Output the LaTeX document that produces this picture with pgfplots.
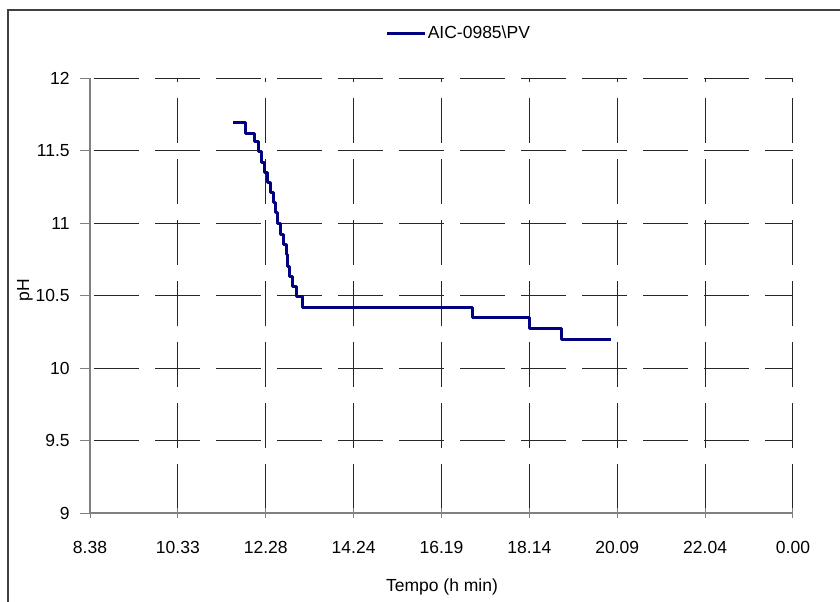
\documentclass[border=0pt]{standalone}
\usepackage{fontspec}
\setmainfont{Liberation Sans}
\usepackage{pgfplots}
\pgfplotsset{compat=1.18}

\definecolor{serie}{HTML}{000080}
\newcommand{\chartfont}{\fontsize{8.75}{10.5}\selectfont}

% pH readings, x in tick intervals (0 = 8.38, 8 = 0.00)
\pgfplotstableread{
x      y
1.629  11.69
1.765  11.62
1.868  11.56
1.913  11.49
1.948  11.42
1.982  11.35
2.022  11.28
2.054  11.21
2.084  11.14
2.113  11.07
2.136  11.00
2.164  10.92
2.202  10.85
2.232  10.78
2.244  10.70
2.270  10.63
2.301  10.56
2.354  10.49
2.418  10.42
4.356  10.35
5.000  10.27
5.364  10.20
5.934  10.20
}\phdata

\begin{document}
\begin{tikzpicture}
\path[use as bounding box] (0,0) rectangle (420pt,300.5pt);
\draw[black!75, line width=1pt] (4pt,-1pt) -- (4pt,295.5pt) -- (421pt,295.5pt);
\begin{axis}[
    at={(45pt,44pt)}, anchor=south west,
    width=351.5pt, height=217.5pt,
    scale only axis,
    xmin=0, xmax=8,
    ymin=9, ymax=12,
    xtick={0,1,...,8},
    xticklabels={8.38,10.33,12.28,14.24,16.19,18.14,20.09,22.04,0.00},
    ytick={9,9.5,...,12},
    /pgf/number format/assume math mode=true,
    tick label style={font=\chartfont},
    xticklabel style={anchor=center, yshift=-14.5pt, inner sep=0pt},
    yticklabel style={anchor=east, xshift=-7.5pt, inner sep=0pt},
    tick align=center,
    major tick length=5pt,
    ytick style={xshift=-2.5pt},
    tick style={gray, line width=0.5pt},
    axis line style={gray, line width=0.6pt},
    axis x line*=bottom, axis y line*=left,
    grid=major,
    major grid style={black!85, line width=0.5pt, dash pattern=on 22.5pt off 8pt, dash phase=28.5pt},
    xlabel={Tempo (h min)},
    ylabel={pH},
    label style={font=\chartfont},
    xlabel style={at={(axis description cs:0.5007,-0.170)}, anchor=center, inner sep=0pt},
    ylabel style={at={(axis description cs:-0.0925,0.513)}, anchor=center, inner sep=0pt},
    legend style={at={(axis description cs:0.524,1.103)}, anchor=center, draw=none, fill=none,
        font=\chartfont, inner sep=0pt, nodes={inner sep=0.6pt}},
    legend image code/.code={\draw[#1] (0pt,0pt) -- (19pt,0pt);},
    clip=false,
]
\addplot[const plot, color=serie, line width=1.5pt, line join=round] table {\phdata};
\addlegendentry{AIC-0985\textbackslash PV}
\end{axis}
\end{tikzpicture}
\end{document}
